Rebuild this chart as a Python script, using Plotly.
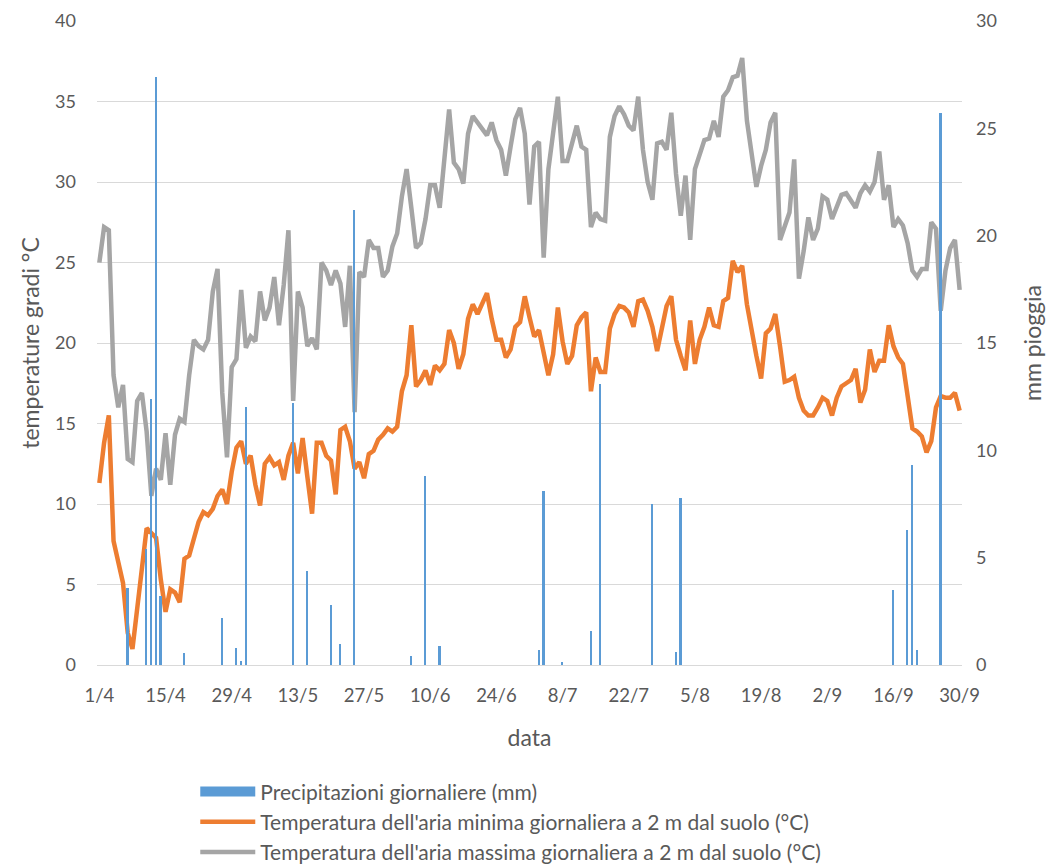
import pandas as pd
import plotly.graph_objects as go

# Daily values, 1 April -> 30 September (183 days)
start_date = "2020-04-01"
end_date = "2020-09-30"

tmin = [11.3, 13.8, 15.5, 7.7, 6.4, 5.1, 2.0, 1.0, 3.5, 6.0,
        8.5, 8.2, 7.9, 5.3, 3.3, 4.7, 4.5, 3.9, 6.6, 6.8,
        7.9, 8.9, 9.5, 9.3, 9.7, 10.5, 10.9, 10.0, 12.0, 13.5,
        13.9, 12.5, 13.0, 11.2, 9.9, 12.5, 12.9, 12.4, 12.6, 11.5,
        13.0, 13.8, 11.9, 14.1, 11.7, 9.4, 13.8, 13.8, 13.0, 12.7,
        10.6, 14.6, 14.8, 13.9, 12.2, 12.6, 11.6, 13.1, 13.3, 14.0,
        14.3, 14.7, 14.5, 14.8, 17.0, 18.0, 21.1, 17.3, 17.7, 18.3,
        17.4, 18.6, 18.3, 18.7, 20.8, 20.0, 18.4, 19.3, 21.5, 22.4,
        21.8, 22.4, 23.1, 21.5, 20.2, 20.2, 19.1, 19.6, 21.0, 21.3,
        22.9, 21.6, 20.4, 20.8, 19.5, 18.0, 19.3, 22.2, 20.1, 18.7,
        19.2, 21.1, 21.6, 21.9, 17.0, 19.1, 18.2, 18.2, 20.9, 21.8,
        22.3, 22.2, 21.9, 21.0, 22.6, 22.7, 22.0, 21.0, 19.5, 20.9,
        22.3, 22.9, 20.2, 19.2, 18.3, 21.4, 18.7, 20.2, 21.0, 22.2,
        21.1, 21.0, 22.6, 22.8, 25.1, 24.4, 24.8, 22.4, 20.6, 19.2,
        17.8, 20.6, 20.9, 21.8, 19.8, 17.6, 17.7, 17.9, 16.6, 15.8,
        15.5, 15.5, 16.0, 16.6, 16.4, 15.5, 16.6, 17.3, 17.5, 17.7,
        18.4, 16.3, 17.1, 19.6, 18.2, 18.9, 18.9, 21.1, 19.8, 19.1,
        18.7, 16.7, 14.7, 14.5, 14.2, 13.2, 13.9, 16.0, 16.7, 16.6,
        16.6, 16.9, 15.8]

tmax = [25.0, 27.2, 27.0, 18.0, 16.0, 17.4, 12.8, 12.6, 16.4, 16.9,
        14.5, 10.5, 12.2, 11.5, 14.4, 11.2, 14.3, 15.3, 15.1, 18.0,
        20.2, 19.8, 19.6, 20.2, 23.2, 24.6, 16.9, 12.9, 18.5, 19.0,
        23.3, 19.7, 20.4, 20.1, 23.2, 21.4, 22.2, 24.1, 21.1, 23.6,
        27.0, 16.4, 23.2, 22.2, 19.8, 20.3, 19.6, 25.0, 24.5, 23.6,
        24.5, 23.7, 21.0, 24.8, 15.7, 24.4, 24.1, 26.4, 25.9, 25.9,
        24.1, 24.5, 26.0, 26.8, 29.1, 30.8, 28.4, 25.9, 26.2, 27.7,
        29.8, 29.8, 28.4, 31.7, 34.5, 31.2, 30.8, 29.9, 33.0, 34.1,
        33.7, 33.3, 32.9, 33.7, 32.6, 32.0, 30.4, 32.2, 33.9, 34.6,
        33.0, 28.6, 32.2, 32.5, 25.3, 30.8, 33.0, 35.3, 31.3, 31.3,
        32.4, 33.5, 32.2, 32.0, 27.2, 28.1, 27.7, 27.6, 32.8, 34.1,
        34.7, 34.2, 33.5, 33.2, 35.3, 32.0, 30.0, 28.9, 32.4, 32.5,
        32.0, 34.3, 30.5, 27.9, 30.4, 26.4, 30.8, 31.7, 32.6, 32.7,
        33.8, 32.8, 35.3, 35.7, 36.5, 36.6, 37.7, 33.8, 31.7, 29.7,
        31.0, 32.0, 33.7, 34.3, 26.4, 27.2, 28.1, 31.4, 24.0, 25.7,
        27.8, 26.4, 27.1, 29.1, 28.9, 27.7, 28.5, 29.2, 29.3, 28.8,
        28.4, 29.3, 29.8, 29.4, 30.0, 31.9, 28.9, 29.8, 27.2, 27.7,
        27.3, 26.2, 24.5, 24.1, 24.6, 24.6, 27.5, 27.1, 22.0, 24.5,
        25.9, 26.4, 23.3]

# Rainy days: day offset from 1 April and daily precipitation (mm)
rain_day = [6, 10, 11, 12, 13, 18, 26, 29, 30, 31,
            41, 44, 49, 51, 54, 66, 69, 72, 93, 94,
            98, 104, 106, 117, 122, 123, 168, 171, 172, 173, 178]
rain_mm = [3.6, 5.4, 12.4, 27.4, 3.2, 0.55, 2.2, 0.8, 0.2, 12.0,
           12.2, 4.4, 2.8, 1.0, 21.2, 0.4, 8.8, 0.9, 0.7, 8.1,
           0.15, 1.6, 13.1, 7.5, 0.6, 7.8, 3.5, 6.3, 9.3, 0.7, 25.7]

tick_dates = ["2020-04-01", "2020-04-15", "2020-04-29", "2020-05-13", "2020-05-27",
              "2020-06-10", "2020-06-24", "2020-07-08", "2020-07-22", "2020-08-05",
              "2020-08-19", "2020-09-02", "2020-09-16", "2020-09-30"]
tick_labels = ["1/4", "15/4", "29/4", "13/5", "27/5", "10/6", "24/6", "8/7",
               "22/7", "5/8", "19/8", "2/9", "16/9", "30/9"]

name_rain = "Precipitazioni giornaliere (mm)"
name_min = "Temperatura dell'aria minima giornaliera a 2 m dal suolo (°C)"
name_max = "Temperatura dell'aria massima giornaliera a 2 m dal suolo (°C)"

dates = pd.date_range(start_date, end_date, freq="D")
assert len(dates) == len(tmin) == len(tmax)
rain_dates = [dates[i] for i in rain_day]

FONT = "Lato, 'Open Sans', sans-serif"
TXT = "#595959"
GRID = "#D9D9D9"
BLUE = "#5B9BD5"
DAY_MS = 86400000

fig = go.Figure()
fig.add_trace(go.Bar(
    x=rain_dates, y=rain_mm, yaxis="y2", name=name_rain,
    marker=dict(color=BLUE, line=dict(width=0)),
    width=0.36 * DAY_MS, showlegend=False,
))
# legend entry for the precipitation bars (wide blue block like the original)
fig.add_trace(go.Scatter(
    x=[None], y=[None], mode="lines", name=name_rain,
    line=dict(color=BLUE, width=14), legendgroup="a",
))
fig.add_trace(go.Scatter(
    x=dates, y=tmin, mode="lines", name=name_min,
    line=dict(color="#ED7D31", width=4.5), legendgroup="b",
))
fig.add_trace(go.Scatter(
    x=dates, y=tmax, mode="lines", name=name_max,
    line=dict(color="#A5A5A5", width=4.5), legendgroup="c",
))

# the page body adds an 8 px offset, so the figure is 1056 x 857
fig.update_layout(
    width=1056, height=857,
    margin=dict(l=89, r=102, t=13, b=200, autoexpand=False),
    paper_bgcolor="white", plot_bgcolor="white",
    font=dict(family=FONT, size=18, color=TXT),
    bargap=0,
    xaxis=dict(
        type="date",
        range=["2020-03-31 12:00", "2020-09-30 12:00"],
        tickvals=tick_dates, ticktext=tick_labels,
        showgrid=False, showline=True, linecolor=GRID, linewidth=1,
        ticks="", ticklabelstandoff=14, tickfont=dict(size=18.5),
        ticklabeloverflow="allow",
        title=dict(text="data", font=dict(size=23, color=TXT), standoff=24),
        zeroline=False,
    ),
    yaxis=dict(
        range=[0, 40], dtick=5, showgrid=True, gridcolor=GRID, gridwidth=1,
        zeroline=False, ticks="", showline=False, ticklabelstandoff=20,
        tickfont=dict(size=18), ticklabeloverflow="allow",
        title=dict(text="temperature gradi °C", font=dict(size=23, color=TXT), standoff=9),
    ),
    yaxis2=dict(
        range=[0, 30], dtick=5, overlaying="y", side="right",
        showgrid=False, zeroline=False, ticks="", showline=False,
        ticklabelstandoff=13, tickfont=dict(size=18), ticklabeloverflow="allow",
        title=dict(text="mm pioggia", font=dict(size=23, color=TXT), standoff=29),
    ),
    legend=dict(
        orientation="v", x=0.1136, xanchor="left", y=-0.165, yanchor="top",
        font=dict(size=21, color=TXT), itemwidth=55,
        traceorder="grouped", tracegroupgap=0,
        bgcolor="rgba(0,0,0,0)",
    ),
    showlegend=True,
)

fig.write_html("out.html")
